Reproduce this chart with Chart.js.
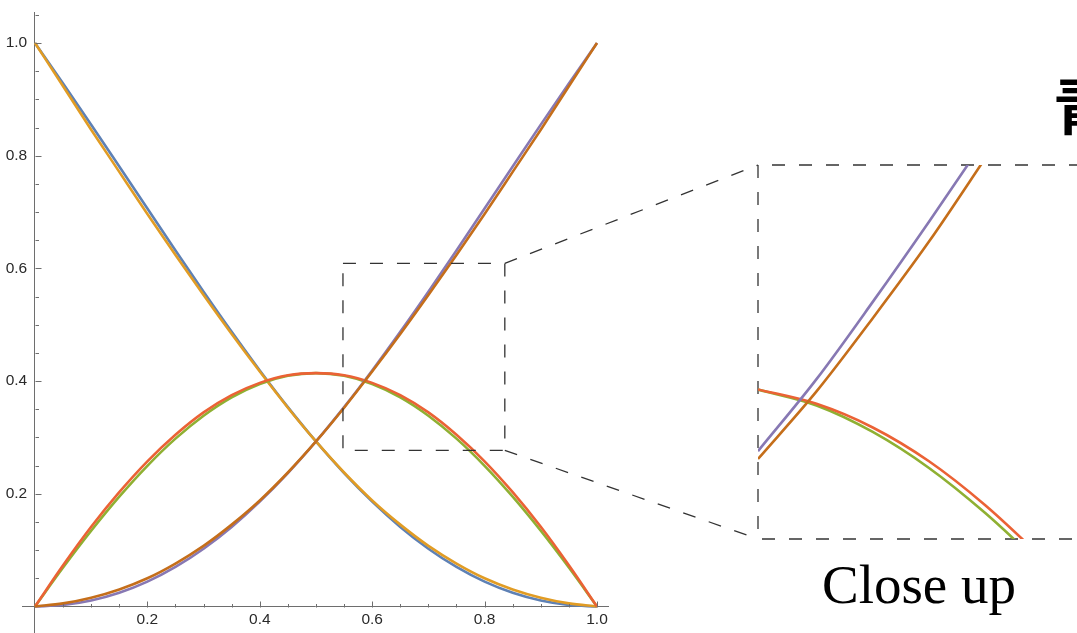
<!DOCTYPE html>
<html>
<head>
<meta charset="utf-8">
<script src="https://cdn.jsdelivr.net/npm/chart.js@4.4.1/dist/chart.umd.min.js"></script>
<style>
  html, body { margin: 0; padding: 0; background: #fff; overflow: hidden; }
  #page { position: relative; width: 1077px; height: 633px; overflow: hidden; }
  #mainWrap { position: absolute; left: 0; top: 0; }
  #insetWrap { position: absolute; }
  .note { position: absolute; white-space: nowrap; color: #000; line-height: 1; }
  #closeUp { left: 822px; top: 553px; font: 55px "Liberation Serif", "DejaVu Serif", serif; }
  #cjk { left: 1053px; top: 58px; font: bold 62px "Noto Sans CJK SC", "Noto Sans CJK JP", sans-serif; }
</style>
</head>
<body>
<div id="page">
  <div id="mainWrap"><canvas id="mainChart" width="1077" height="643"></canvas></div>
  <div id="insetWrap"><canvas id="insetChart"></canvas></div>
  <div class="note" id="cjk">青</div>
  <div class="note" id="closeUp">Close up</div>
</div>
<script>
// main plot: parameter values along x
const xs = [0, 0.05, 0.1, 0.15, 0.2, 0.25, 0.3, 0.35, 0.4, 0.45, 0.5,
            0.55, 0.6, 0.65, 0.7, 0.75, 0.8, 0.85, 0.9, 0.95, 1];

const blueVals   = [1, 0.9283, 0.8551, 0.7808, 0.7062, 0.6319, 0.5587, 0.4875, 0.4189, 0.3538, 0.2929,
                    0.2368, 0.1862, 0.1413, 0.1026, 0.0702, 0.0441, 0.0243, 0.0106, 0.0026, 0];
const orangeVals = [1, 0.9233, 0.8461, 0.7713, 0.6967, 0.6239, 0.5527, 0.4835, 0.4169, 0.3528, 0.2929,
                    0.2378, 0.1882, 0.1453, 0.1076, 0.0762, 0.0501, 0.0303, 0.0156, 0.0056, 0];
const greenVals  = [0, 0.0691, 0.1344, 0.1949, 0.2497, 0.2979, 0.3386, 0.3712, 0.3949, 0.4094, 0.4142,
                    0.4094, 0.3949, 0.3712, 0.3386, 0.2979, 0.2497, 0.1949, 0.1344, 0.0691, 0];
const redVals    = [0, 0.0731, 0.1414, 0.2029, 0.2577, 0.3049, 0.3446, 0.3752, 0.3969, 0.4104, 0.4142,
                    0.4104, 0.3969, 0.3752, 0.3446, 0.3049, 0.2577, 0.2029, 0.1414, 0.0731, 0];
const purpleVals = [0, 0.0026, 0.0106, 0.0243, 0.0441, 0.0702, 0.1026, 0.1413, 0.1862, 0.2368, 0.2929,
                    0.3538, 0.4189, 0.4875, 0.5587, 0.6319, 0.7062, 0.7808, 0.8551, 0.9283, 1];
const brownVals  = [0, 0.0056, 0.0156, 0.0303, 0.0501, 0.0762, 0.1076, 0.1453, 0.1882, 0.2378, 0.2929,
                    0.3528, 0.4169, 0.4835, 0.5527, 0.6239, 0.6967, 0.7713, 0.8461, 0.9233, 1];

// close up
const insetXs     = [0.548, 0.6, 0.65, 0.7, 0.75, 0.8];
const insetPurple = [0.355, 0.4189, 0.4875, 0.5587, 0.6319, 0.7062];
const insetBrown  = [0.348, 0.408, 0.473, 0.541, 0.615, 0.69];
const insetGreen  = [0.4096, 0.3955, 0.372, 0.340, 0.300, 0.254];
const insetRed    = [0.4098, 0.397, 0.376, 0.346, 0.307, 0.261];

// zoomed region (data units)
const zoomX = [0.548, 0.836];
const zoomY = [0.277, 0.609];

// axis ticks: labelled majors and small minor marks
const majorTicks = [0.2, 0.4, 0.6, 0.8, 1.0];
const minorTicksX = [0.05, 0.1, 0.15, 0.25, 0.3, 0.35, 0.45, 0.5, 0.55, 0.65, 0.7, 0.75, 0.85, 0.9, 0.95];
const minorTicksY = [0.05, 0.1, 0.15, 0.25, 0.3, 0.35, 0.45, 0.5, 0.55, 0.65, 0.7, 0.75, 0.85, 0.9, 0.95, 1.05];

const colors = {
  blue: "#5E81B5", orange: "#E19C24", green: "#8FB032",
  red: "#EB6235", purple: "#8778B3", brown: "#C56E1A"
};
const axisColor = "#6e6e6e";
const dashColor = "#333";
const insetBox = { left: 758, top: 165, width: 324, height: 374 };

function pts(xv, yv) { return xv.map((x, i) => ({ x: x, y: yv[i] })); }

function lineSet(data, color, order) {
  return {
    data: data,
    borderColor: color,
    borderWidth: 2.6,
    pointRadius: 0,
    fill: false,
    cubicInterpolationMode: "monotone",
    order: order
  };
}

// small inward tick marks, major longer than minor
const tickMarks = {
  id: "tickMarks",
  afterDraw(chart) {
    const ctx = chart.ctx;
    const sx = chart.scales.x, sy = chart.scales.y;
    const axisY = Math.round(sy.getPixelForValue(0)) + 0.5;
    const axisX = Math.round(sx.getPixelForValue(0)) + 0.5;
    ctx.save();
    ctx.setLineDash([]);
    ctx.strokeStyle = axisColor;
    ctx.lineWidth = 1;
    const markX = (v, len) => {
      const px = Math.round(sx.getPixelForValue(v)) + 0.5;
      ctx.beginPath(); ctx.moveTo(px, axisY); ctx.lineTo(px, axisY - len); ctx.stroke();
    };
    const markY = (v, len) => {
      const py = Math.round(sy.getPixelForValue(v)) + 0.5;
      ctx.beginPath(); ctx.moveTo(axisX, py); ctx.lineTo(axisX + len, py); ctx.stroke();
    };
    majorTicks.forEach(v => { markX(v, 6); markY(v, 6); });
    minorTicksX.forEach(v => markX(v, 3.5));
    minorTicksY.forEach(v => markY(v, 3.5));
    ctx.restore();
  }
};

// dashed zoom rectangle, connectors and close-up frame
const zoomFrame = {
  id: "zoomFrame",
  afterDraw(chart) {
    const ctx = chart.ctx;
    const sx = chart.scales.x, sy = chart.scales.y;
    const x0 = sx.getPixelForValue(zoomX[0]);
    const x1 = sx.getPixelForValue(zoomX[1]);
    const yTop = sy.getPixelForValue(zoomY[1]);
    const yBot = sy.getPixelForValue(zoomY[0]);
    const bl = insetBox.left, bt = insetBox.top;
    const br = insetBox.left + insetBox.width, bb = insetBox.top + insetBox.height;
    ctx.save();
    ctx.strokeStyle = dashColor;
    ctx.lineWidth = 1.3;
    ctx.setLineDash([13, 14]);
    ctx.strokeRect(x0, yTop, x1 - x0, yBot - yTop);
    ctx.beginPath(); ctx.moveTo(x1, yTop); ctx.lineTo(bl, bt); ctx.stroke();
    ctx.beginPath(); ctx.moveTo(x1, yBot); ctx.lineTo(bl, bb); ctx.stroke();
    ctx.beginPath(); ctx.moveTo(br, bt); ctx.lineTo(bl, bt); ctx.lineTo(bl, bb); ctx.lineTo(br, bb); ctx.stroke();
    ctx.restore();
  }
};

const tickFont = { family: "'Liberation Sans', Arial, sans-serif", size: 15.5 };

new Chart(document.getElementById("mainChart"), {
  type: "line",
  data: {
    datasets: [
      lineSet(pts(xs, blueVals), colors.blue, 6),
      lineSet(pts(xs, orangeVals), colors.orange, 5),
      lineSet(pts(xs, greenVals), colors.green, 4),
      lineSet(pts(xs, redVals), colors.red, 3),
      lineSet(pts(xs, purpleVals), colors.purple, 2),
      lineSet(pts(xs, brownVals), colors.brown, 1)
    ]
  },
  options: {
    responsive: false,
    animation: false,
    layout: { padding: { left: 22, right: 469, top: 12, bottom: 10 } },
    plugins: { legend: { display: false }, tooltip: { enabled: false } },
    scales: {
      x: {
        type: "linear",
        position: { y: 0 },
        min: -0.0231,
        max: 1.0196,
        grid: { drawOnChartArea: false, drawTicks: false },
        border: { color: axisColor, width: 1 },
        afterBuildTicks: axis => { axis.ticks = majorTicks.map(v => ({ value: v })); },
        ticks: {
          autoSkip: false,
          maxRotation: 0,
          padding: 4,
          color: "#2a2a2a",
          font: tickFont,
          callback: v => v.toFixed(1)
        }
      },
      y: {
        type: "linear",
        position: { x: 0 },
        min: -0.047,
        max: 1.055,
        grid: { drawOnChartArea: false, drawTicks: false },
        border: { color: axisColor, width: 1 },
        afterBuildTicks: axis => { axis.ticks = majorTicks.map(v => ({ value: v })); },
        ticks: {
          autoSkip: false,
          padding: 0,
          color: "#2a2a2a",
          font: tickFont,
          callback: v => v.toFixed(1) + "\u2002"
        }
      }
    }
  },
  plugins: [tickMarks, zoomFrame]
});

// close-up chart placed over the inset frame
const insetWrap = document.getElementById("insetWrap");
insetWrap.style.left = insetBox.left + "px";
insetWrap.style.top = insetBox.top + "px";
const insetCanvas = document.getElementById("insetChart");
insetCanvas.width = insetBox.width;
insetCanvas.height = insetBox.height;

new Chart(insetCanvas, {
  type: "line",
  data: {
    datasets: [
      lineSet(pts(insetXs, insetGreen), colors.green, 4),
      lineSet(pts(insetXs, insetRed), colors.red, 3),
      lineSet(pts(insetXs, insetPurple), colors.purple, 2),
      lineSet(pts(insetXs, insetBrown), colors.brown, 1)
    ]
  },
  options: {
    responsive: false,
    animation: false,
    layout: { padding: 0 },
    plugins: { legend: { display: false }, tooltip: { enabled: false } },
    scales: {
      x: { type: "linear", display: false, min: zoomX[0], max: zoomX[1] },
      y: { type: "linear", display: false, min: zoomY[0], max: zoomY[1] }
    }
  }
});
</script>
</body>
</html>
